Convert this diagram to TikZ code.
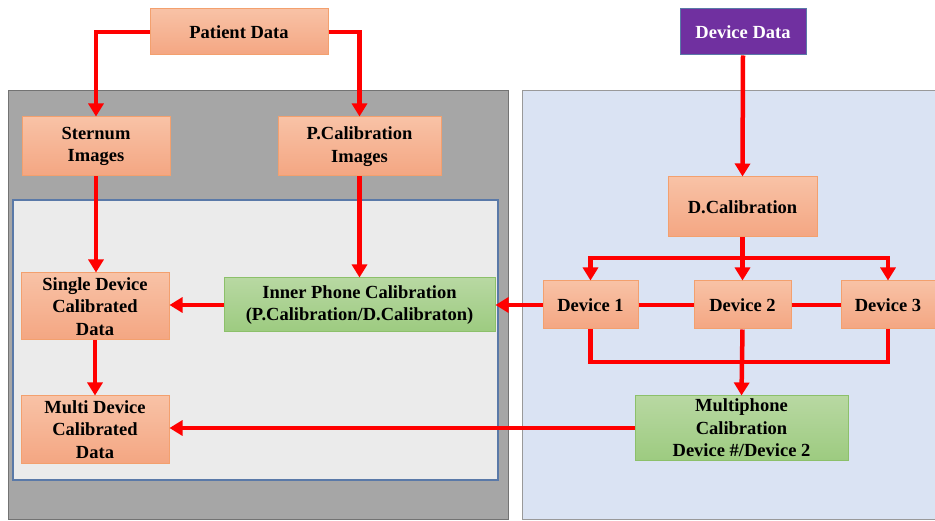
\documentclass[tikz,border=0pt]{standalone}
\usepackage{fontspec}
\setmainfont{Liberation Serif}
\usepackage{xcolor}
\usepackage{tikz}
\usetikzlibrary{arrows.meta,positioning}
\definecolor{boxtop}{RGB}{248,194,166}
\definecolor{boxbot}{RGB}{244,166,130}
\definecolor{boxline}{RGB}{243,160,110}
\definecolor{calibtop}{RGB}{184,216,162}
\definecolor{calibbot}{RGB}{157,203,128}
\definecolor{calibline}{RGB}{140,192,106}
\definecolor{devdata}{RGB}{112,48,160}
\definecolor{patientpanel}{RGB}{166,166,166}
\definecolor{devicepanel}{RGB}{218,227,243}
\definecolor{innerpanel}{RGB}{235,235,235}
\definecolor{innerline}{RGB}{90,121,168}
\definecolor{flow}{RGB}{255,0,0}

\tikzset{
    stage/.style={draw=boxline, line width=1pt, top color=boxtop, bottom color=boxbot,
        align=center, inner sep=0pt},
    calib/.style={draw=calibline, line width=1pt, top color=calibtop, bottom color=calibbot,
        align=center, inner sep=0pt},
    flowline/.style={draw=flow, line width=4.5pt},
}

\begin{document}
\begin{tikzpicture}[x=1pt, y=-1pt, >={Triangle[width=15pt,length=13pt]},
    every node/.style={font=\bfseries\fontsize{18.5}{22.5}\selectfont}]
    \useasboundingbox (0,0) rectangle (935,521);

    % panels
    \draw[fill=patientpanel, draw=gray!110, line width=1pt] (8,91) rectangle (508,519);
    \draw[fill=devicepanel, draw=gray!80, line width=1pt] (522,91) rectangle (935,519);
    \draw[fill=innerpanel, draw=innerline, line width=1.2pt] (13,200) rectangle (498,480);

    % patient side
    \node[stage, minimum width=178pt, minimum height=46pt] (patient) at (239,32) {Patient Data};
    \node[stage, minimum width=148pt, minimum height=59pt] (sternum) at (96,146.5) {Sternum\\Images};
    \node[stage, minimum width=163pt, minimum height=59pt] (pcalimg) at (359.5,146.5) {P.Calibration\\Images};
    \node[stage, minimum width=148pt, minimum height=67pt] (single) at (95,306.5) {Single Device\\Calibrated\\Data};
    \node[calib, minimum width=271pt, minimum height=54pt] (inner) at (359.5,305) {Inner Phone Calibration\\(P.Calibration/D.Calibraton)};
    \node[stage, minimum width=148pt, minimum height=67pt] (multidev) at (95,429.5) {Multi Device\\Calibrated\\Data};

    % device side
    \node[draw=innerline, line width=1pt, fill=devdata, text=white, minimum width=126pt, minimum height=46pt] (devicedata) at (743,32) {Device Data};
    \node[stage, minimum width=149pt, minimum height=60pt] (dcal) at (742.5,207) {D.Calibration};
    \node[stage, minimum width=95pt, minimum height=48pt] (dev1) at (590.5,305) {Device 1};
    \node[stage, minimum width=97pt, minimum height=48pt] (dev2) at (742.5,305) {Device 2};
    \node[stage, minimum width=94pt, minimum height=48pt] (dev3) at (888,305) {Device 3};
    \node[calib, minimum width=213pt, minimum height=64pt] (multiphone) at (741.5,428) {Multiphone\\Calibration\\Device \#/Device 2};

    \coordinate (split) at (742.5,258);
    \coordinate (join) at (742.5,362);

    % connectors
    \draw[flowline, ->] (patient.west) -| (sternum.north);
    \draw[flowline, ->] (patient.east) -| (pcalimg.north);
    \draw[flowline, ->] (sternum.south) -- (sternum.south |- single.north);
    \draw[flowline, ->] (pcalimg.south) -- (inner.north);
    \draw[flowline, ->] (inner.west) -- (inner.west -| single.east);
    \draw[flowline, ->] (single.south) -- (multidev.north);
    \draw[flowline, ->] (devicedata.south) -- (dcal.north);
    \draw[flowline] (dcal.south) -- (split);
    \draw[flowline, ->] (split) -| (dev1.north);
    \draw[flowline, ->] (split) -| (dev3.north);
    \draw[flowline, ->] (split) -- (dev2.north);
    \draw[flowline, line width=3.5pt] (dev1.east) -- (dev2.west);
    \draw[flowline, line width=3.5pt] (dev2.east) -- (dev3.west);
    \draw[flowline, ->] (dev1.west) -- (inner.east);
    \draw[flowline, line join=miter] (dev1.south) |- (join) -| (dev3.south);
    \draw[flowline, ->] (dev2.south) -- (multiphone.north);
    \draw[flowline, ->] (multiphone.west) -- (multiphone.west -| multidev.east);
\end{tikzpicture}
\end{document}
